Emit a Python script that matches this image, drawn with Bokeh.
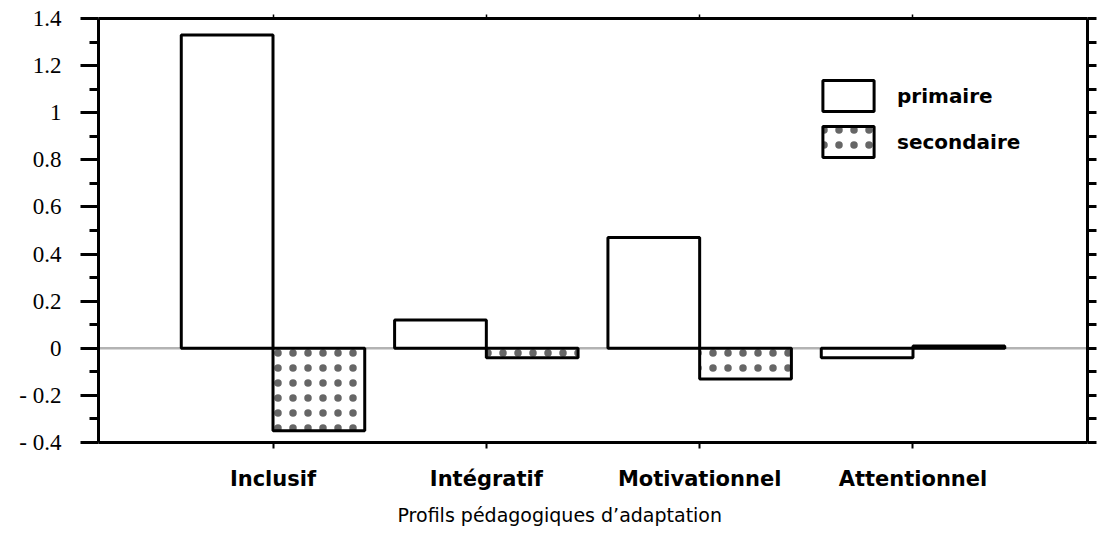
from bokeh.plotting import figure
from bokeh.models import (ColumnDataSource, FactorRange, FixedTicker, LinearAxis,
                          CategoricalAxis, Span, Title, CustomJSTickFormatter)
from bokeh.transform import dodge
from bokeh.embed import file_html
from bokeh.resources import INLINE

# ---- data ----
categories = ["Inclusif", "Intégratif", "Motivationnel", "Attentionnel"]
primaire = [1.33, 0.12, 0.47, -0.04]
secondaire = [-0.35, -0.04, -0.13, 0.01]
y_ticks = [-0.4, -0.2, 0, 0.2, 0.4, 0.6, 0.8, 1, 1.2, 1.4]
y_tick_labels = ["- 0.4", "- 0.2", "0", "0.2", "0.4", "0.6", "0.8", "1", "1.2", "1.4"]
y_minor = [-0.3, -0.1, 0.1, 0.3, 0.5, 0.7, 0.9, 1.1, 1.3]
x_title = "Profils pédagogiques d’adaptation"

source = ColumnDataSource(dict(cat=categories, primaire=primaire, secondaire=secondaire))

x_range = FactorRange(*categories, range_padding=0.318, range_padding_units="absolute")

p = figure(width=1097, height=536, x_range=x_range, y_range=(-0.4, 1.4),
           output_backend="svg", toolbar_location=None,
           min_border_left=98, min_border_right=10, min_border_top=18, min_border_bottom=94,
           background_fill_color="white", border_fill_color="white",
           outline_line_color=None)
p.xgrid.visible = False
p.ygrid.visible = False

# zero line
p.add_layout(Span(location=0, dimension="width", line_color="#666666",
                  line_width=2.5, line_dash="1 1", level="underlay"))

p.vbar(x=dodge("cat", -0.215, range=p.x_range), top="primaire", bottom=0, width=0.43,
       source=source, fill_color="white", line_color="black", line_width=3,
       legend_label="primaire")
p.vbar(x=dodge("cat", 0.215, range=p.x_range), top="secondaire", bottom=0, width=0.43,
       source=source, fill_color="white", line_color="black", line_width=3,
       hatch_pattern=".", hatch_color="#666666", hatch_scale=15, hatch_weight=0.1,
       legend_label="secondaire")

blank = CustomJSTickFormatter(code="return ''")

# left axis
ya = p.yaxis[0]
ya.ticker = FixedTicker(ticks=y_ticks, minor_ticks=y_minor)
ya.major_label_overrides = dict(zip(y_ticks, y_tick_labels))
ya.axis_line_width = 3
ya.major_tick_line_width = 3
ya.minor_tick_line_width = 3
ya.major_tick_in = 0
ya.major_tick_out = 18
ya.minor_tick_in = 0
ya.minor_tick_out = 9
ya.major_label_standoff = 19
ya.major_label_text_font = "Liberation Serif"
ya.major_label_text_font_size = "23px"
ya.major_label_text_color = "black"

# bottom axis
xa = p.xaxis[0]
xa.axis_line_width = 3
xa.major_tick_line_width = 2
xa.major_tick_in = 0
xa.major_tick_out = 6
xa.major_label_standoff = 18
xa.major_label_text_font = "DejaVu Sans"
xa.major_label_text_font_style = "bold"
xa.major_label_text_font_size = "21px"
xa.major_label_text_color = "black"

# right axis
ra = LinearAxis(ticker=FixedTicker(ticks=y_ticks, minor_ticks=y_minor), formatter=blank)
ra.axis_line_width = 3
ra.major_tick_line_width = 3
ra.minor_tick_line_width = 3
ra.major_tick_in = 0
ra.major_tick_out = 9
ra.minor_tick_in = 0
ra.minor_tick_out = 9
ra.major_label_standoff = 0
ra.major_label_text_font_size = "1px"
p.add_layout(ra, "right")

# top axis
ta = CategoricalAxis()
ta.axis_line_width = 3
ta.major_tick_line_width = 1.5
ta.major_tick_in = 0
ta.major_tick_out = 4
ta.major_label_standoff = 0
ta.major_label_text_font_size = "1px"
ta.major_label_text_alpha = 0
p.add_layout(ta, "above")

# x title
p.add_layout(Title(text=x_title, align="left", offset=299, standoff=16,
                   text_font="DejaVu Sans", text_font_size="19px",
                   text_font_style="normal", text_color="black"),
             "below")

# legend
lg = p.legend[0]
lg.location = (718, 281)
lg.padding = 0
lg.spacing = 7
lg.glyph_width = 64
lg.glyph_height = 39
lg.label_standoff = 17
lg.label_text_font = "DejaVu Sans"
lg.label_text_font_style = "bold"
lg.label_text_font_size = "20px"
lg.label_text_color = "black"
lg.border_line_color = None
lg.background_fill_alpha = 0

open("out.html", "w").write(file_html(p, INLINE))
